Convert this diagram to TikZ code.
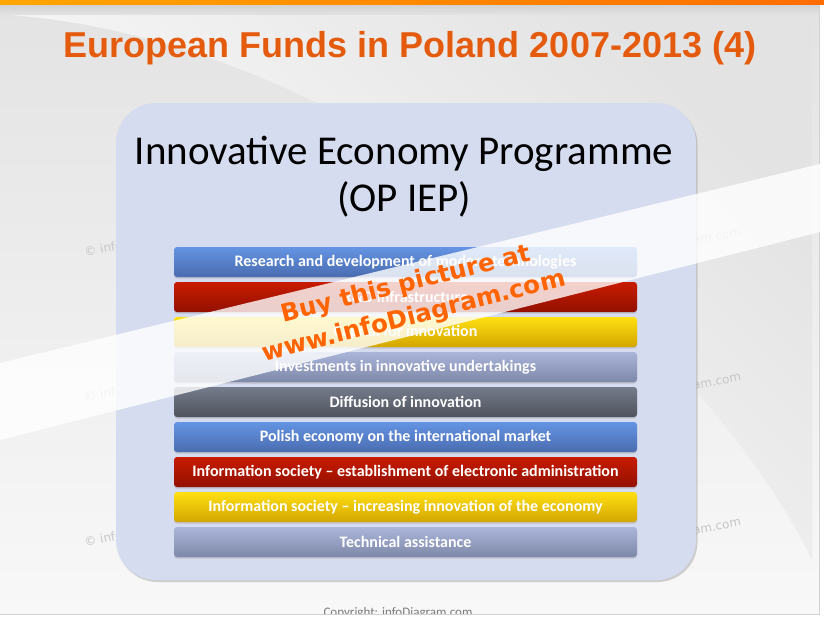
\documentclass[tikz,border=0pt]{standalone}
\usepackage{fontspec}
\setmainfont{Carlito}
\newfontfamily\titlefont{Liberation Sans}
\newfontfamily\markfont{DejaVu Sans}
\usetikzlibrary{shadows}

\definecolor{titleorange}{HTML}{E55B0D}
\definecolor{buyorange}{HTML}{FF6400}
\definecolor{panelblue}{HTML}{D6DCEF}
\definecolor{bgtop}{HTML}{E3E3E3}
\definecolor{bgbottom}{HTML}{F8F8F8}
\definecolor{edgegray}{HTML}{D2D2D2}
\definecolor{markgray}{HTML}{C6C6C6}
\definecolor{footgray}{HTML}{7A7A7A}
\definecolor{blueT}{HTML}{6494E3}
\definecolor{blueB}{HTML}{4A6CB0}
\definecolor{redT}{HTML}{C81B00}
\definecolor{redB}{HTML}{931000}
\definecolor{yellowT}{HTML}{FFE012}
\definecolor{yellowB}{HTML}{D3A500}
\definecolor{lilacT}{HTML}{AAB5DA}
\definecolor{lilacB}{HTML}{7E88A8}
\definecolor{grayT}{HTML}{747B8A}
\definecolor{grayB}{HTML}{4F535D}

\tikzset{
	every bar/.style={rounded corners=3pt, minimum width=463pt, minimum height=30pt,
		inner sep=0pt, text=white, font=\fontsize{16}{18}\selectfont\bfseries,
		drop shadow={shadow xshift=0pt, shadow yshift=-1.5pt, opacity=0.3}},
	bar blue/.style={top color=blueT, bottom color=blueB},
	bar red/.style={top color=redT, bottom color=redB},
	bar yellow/.style={top color=yellowT, bottom color=yellowB},
	bar lilac/.style={top color=lilacT, bottom color=lilacB},
	bar gray/.style={top color=grayT, bottom color=grayB},
	faint mark/.style={text=markgray, font=\markfont\fontsize{12}{14}\selectfont, rotate=11},
	buy mark/.style={text=buyorange, font=\markfont\bfseries\fontsize{24.5}{28}\selectfont, rotate=14}
}

\begin{document}
\begin{tikzpicture}[x=1pt, y=-1pt]
\useasboundingbox (0,0) rectangle (824,618);
% slide background
\fill[white] (0,0) rectangle (824,618);
\shade[top color=bgtop, bottom color=bgbottom] (0,5) rectangle (819,614);
\shade[top color=bgtop, bottom color=white, shading angle=-45]
	(10,15) .. controls (350,40) and (700,330) .. (812,560) -- (812,15) -- cycle;
\draw[edgegray] (819,5) -- (819,614) -- (0,614);
\shade[top color=edgegray, bottom color=bgtop] (0,5) rectangle (819,15);
\shade[left color=orange!70!yellow, right color=orange!85!red] (0,0) rectangle (824,5);

% faint marks
\foreach \y [count=\i] in {257,402,547} {
	\node[faint mark, anchor=base west] (mark-l\i) at (82,\y) {© infoDiagram.com};
	\node[faint mark, anchor=base east] (mark-r\i) at (745,\y-22) {© infoDiagram.com};
}

% panel
\node[fill=panelblue, rounded corners=40pt, minimum width=580pt, minimum height=477pt,
	drop shadow={shadow xshift=1.5pt, shadow yshift=-2pt, opacity=0.35}] (panel) at (406,341.5) {};

% titles
\node[font=\titlefont\bfseries\fontsize{36}{40}\selectfont, text=titleorange] (title) at (410,48)
	{European Funds in Poland 2007-2013 (4)};
\node[align=center, font=\fontsize{41}{47}\selectfont] (prog) at (404,177)
	{Innovative Economy Programme\\(OP IEP)};

% priority bars
\foreach \c/\t [count=\i] in {blue/Research and development of modern technologies,
		red/R\&D infrastructure, yellow/Capital for innovation,
		lilac/Investments in innovative undertakings, gray/Diffusion of innovation,
		blue/Polish economy on the international market,
		red/Information society -- establishment of electronic administration,
		yellow/Information society -- increasing innovation of the economy,
		lilac/Technical assistance}
	\node [every bar/.try, bar \c/.try] (bar-\i) at (405.5,{227+35*\i}) {\t};

% buy band
\fill[white, opacity=0.8] (0,363) -- (824,163) -- (824,231) -- (0,440) -- cycle;
\node[buy mark] (buy) at (406,285) {Buy this picture at};
\node[buy mark] (site) at (414,317) {www.infoDiagram.com};

% footer
\begin{scope}
	\clip (0,0) rectangle (824,613.5);
	\node[font=\fontsize{13}{15}\selectfont, text=footgray, anchor=base] (copy) at (398,616)
		{Copyright: infoDiagram.com};
\end{scope}
\end{tikzpicture}
\end{document}
